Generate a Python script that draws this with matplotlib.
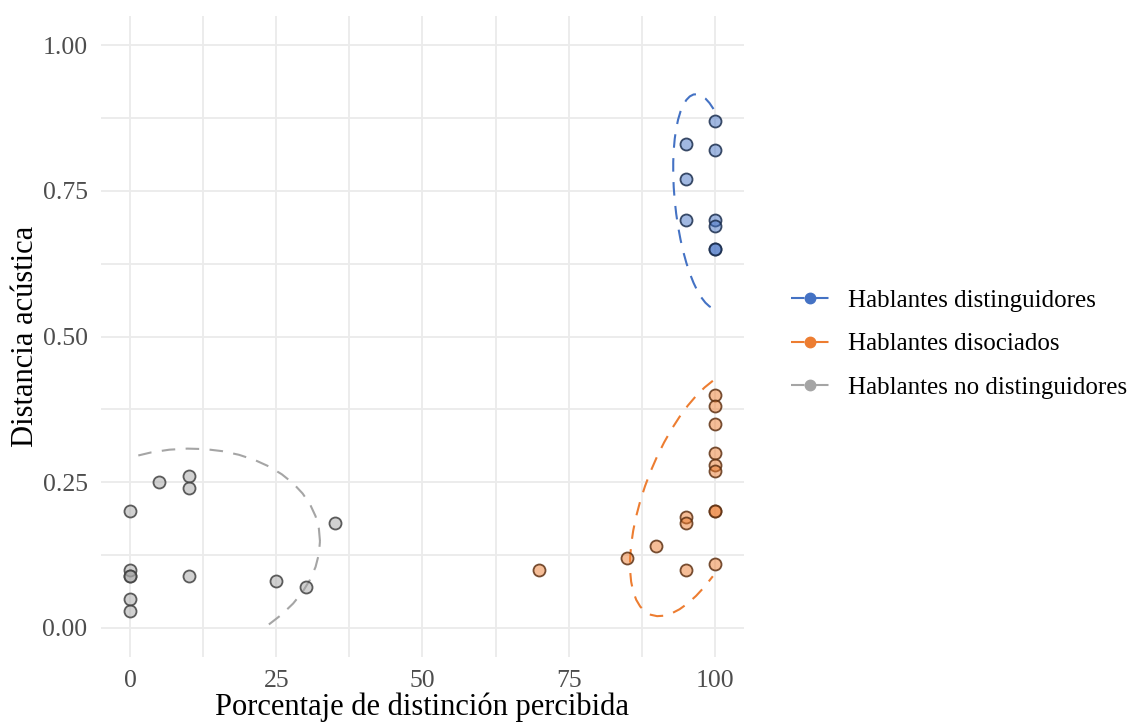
import numpy as np
import matplotlib
matplotlib.use("Agg")
import matplotlib.pyplot as plt
from matplotlib.lines import Line2D

# ---- data ----
groups = ["Hablantes distinguidores", "Hablantes disociados", "Hablantes no distinguidores"]
colors = ["#4472C4", "#ED7D31", "#A5A5A5"]

dist_x = [95, 95, 95, 100, 100, 100, 100, 100, 100]
dist_y = [0.83, 0.77, 0.70, 0.87, 0.82, 0.70, 0.69, 0.65, 0.65]

diso_x = [70, 85, 90, 95, 95, 95, 100, 100, 100, 100, 100, 100, 100, 100, 100]
diso_y = [0.10, 0.12, 0.14, 0.19, 0.18, 0.10, 0.40, 0.38, 0.35, 0.30, 0.28, 0.27, 0.20, 0.20, 0.11]

nodi_x = [0, 0, 0, 0, 0, 0, 5, 10, 10, 10, 25, 30, 35]
nodi_y = [0.20, 0.10, 0.09, 0.09, 0.05, 0.03, 0.25, 0.26, 0.24, 0.09, 0.08, 0.07, 0.18]

xs = [dist_x, diso_x, nodi_x]
ys = [dist_y, diso_y, nodi_y]

x_ticks = [0, 25, 50, 75, 100]
y_ticks = [0.0, 0.25, 0.5, 0.75, 1.0]
y_ticklabels = ["0.00", "0.25", "0.50", "0.75", "1.00"]


def cov_trob(x, nu=5, maxit=25, tol=0.01):
    n, p = x.shape
    wt = np.ones(n)
    loc = (wt[:, None] * x).sum(0) / wt.sum()
    w = np.sqrt(wt)
    X = x - loc
    for _ in range(maxit):
        w0 = w
        X = x - loc
        A = np.sqrt(w / w.sum())[:, None] * X
        _, d, vt = np.linalg.svd(A, full_matrices=False)
        wX = X @ vt.T @ np.diag(1.0 / d)
        Q = (wX ** 2).sum(1)
        w = (wt * (nu + p)) / (nu + Q)
        loc = (w[:, None] * x).sum(0) / w.sum()
        if np.all(np.abs(w - w0) < tol):
            break
    cov = (np.sqrt(w)[:, None] * X).T @ (np.sqrt(w)[:, None] * X) / wt.sum()
    return cov, loc


def ellipse(x, y, level=0.90, segments=51):
    data = np.column_stack([x, y]).astype(float)
    n = len(data)
    dfn, dfd = 2, n - 1
    shape, center = cov_trob(data)
    chol = np.linalg.cholesky(shape).T  # upper triangular like R's chol
    qf = dfd / 2.0 * ((1 - level) ** (-2.0 / dfd) - 1)
    radius = np.sqrt(dfn * qf)
    ang = np.linspace(0, 2 * np.pi, segments + 1)
    uc = np.column_stack([np.cos(ang), np.sin(ang)])
    e = center + radius * (uc @ chol)
    ex, ey = e[:, 0].copy(), e[:, 1].copy()
    bad = (ex < 0) | (ex > 100) | (ey < 0) | (ey > 1)
    ex[bad] = np.nan
    ey[bad] = np.nan
    return ex, ey


plt.rcParams['font.family'] = ['Liberation Serif', 'DejaVu Serif']

fig = plt.figure(figsize=(11.33, 7.22), dpi=100)
ax = fig.add_axes([100.75 / 1133, 1 - 657.15 / 722, (744.25 - 100.75) / 1133, (657.15 - 15.85) / 722])

ax.set_xlim(-5, 105)
ax.set_ylim(-0.05, 1.05)

# grid
for v in np.arange(0, 101, 12.5):
    ax.axvline(v, color="#EBEBEB", lw=1.3, zorder=0)
for v in np.arange(0, 1.01, 0.125):
    ax.axhline(v, color="#EBEBEB", lw=1.3, zorder=0)

dash = (0, (6.5, 5))
for gx, gy, c in zip(xs, ys, colors):
    ex, ey = ellipse(gx, gy)
    ax.plot(ex, ey, color=c, lw=1.5, linestyle=dash, zorder=2)

def darken(c, f=0.4):
    r, g, b = matplotlib.colors.to_rgb(c)
    return (r * f, g * f, b * f)

for gx, gy, c in zip(xs, ys, colors):
    ax.scatter(gx, gy, s=75, facecolor=matplotlib.colors.to_rgba(c, 0.5),
               edgecolor=(*darken(c), 0.85), linewidth=1.3, zorder=3)

for s in ax.spines.values():
    s.set_visible(False)
ax.tick_params(length=0, labelsize=18.5, colors="#4D4D4D", pad=9.5)
ax.set_xticks(x_ticks)
ax.set_xticklabels([str(v) for v in x_ticks])
ax.set_yticks(y_ticks)
ax.set_yticklabels(y_ticklabels)
ax.set_xlabel("Porcentaje de distinción percibida", fontsize=22, color="black", labelpad=0)
ax.set_ylabel("Distancia acústica", fontsize=22, color="black", labelpad=2)

handles = [Line2D([0], [0], color=c, lw=1.5, linestyle=dash, marker='o', markersize=7.5,
                  markerfacecolor=c, markeredgecolor=c) for c in colors]
fig.legend(handles, groups, loc='center left', bbox_to_anchor=(781 / 1133, 1 - 344 / 722),
           frameon=False, fontsize=18, handlelength=1.5, handletextpad=0.8,
           labelspacing=0.85, borderaxespad=0)

fig.savefig("out.png", dpi=100)
